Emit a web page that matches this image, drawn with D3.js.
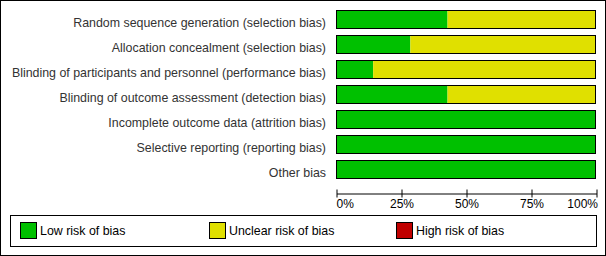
<!DOCTYPE html>
<html>
<head>
<meta charset="utf-8">
<script src="https://cdn.jsdelivr.net/npm/d3@7"></script>
<style>
    body { margin: 0; background: #fff; }
    svg text { font-family: "Liberation Sans", Arial, sans-serif; }
</style>
</head>
<body>
<div id="chart-area"></div>
<script>

// Risk of bias domains (top to bottom)
let domains = [
    "Random sequence generation (selection bias)",
    "Allocation concealment (selection bias)",
    "Blinding of participants and personnel (performance bias)",
    "Blinding of outcome assessment (detection bias)",
    "Incomplete outcome data (attrition bias)",
    "Selective reporting (reporting bias)",
    "Other bias"
];

// percent of studies per judgement
let lowRisk     = [42.9, 28.6, 14.3, 42.9, 100, 100, 100];
let unclearRisk = [57.1, 71.4, 85.7, 57.1, 0, 0, 0];
let highRisk    = [0, 0, 0, 0, 0, 0, 0];

let riskKeys = ["low", "unclear", "high"];
let riskLabels = ["Low risk of bias", "Unclear risk of bias", "High risk of bias"];
let riskColors = ["#00c000", "#e0e000", "#c00000"];

let tickValues = [0, 25, 50, 75, 100];
let tickLabels = ["0%", "25%", "50%", "75%", "100%"];


class RiskVis {

    constructor(_parentElement) {
        this.parentElement = _parentElement;
        this.initVis();
    }

    initVis() {
        let vis = this;

        vis.width = 606;
        vis.height = 256;

        vis.svg = d3.select("#" + vis.parentElement).append("svg")
            .attr("width", vis.width)
            .attr("height", vis.height);

        // outer frame
        vis.svg.append("rect")
            .attr("x", 0.5).attr("y", 0.5)
            .attr("width", vis.width - 1).attr("height", vis.height - 1)
            .attr("fill", "#fff")
            .attr("stroke", "#000");

        // Scales
        vis.x = d3.scaleLinear()
            .domain([0, 100])
            .range([336, 596]);

        vis.y = d3.scaleBand()
            .domain(domains)
            .range([7, 182])
            .paddingInner(0.24)
            .paddingOuter(0.12);

        vis.color = d3.scaleOrdinal()
            .domain(riskKeys)
            .range(riskColors);

        vis.xAxis = d3.axisBottom(vis.x)
            .tickValues(tickValues)
            .tickSizeOuter(0)
            .tickFormat((d, i) => tickLabels[i]);

        vis.wrangleData();
    }

    wrangleData() {
        let vis = this;

        let rows = domains.map((d, i) => ({
            domain: d, low: lowRisk[i], unclear: unclearRisk[i], high: highRisk[i]
        }));

        vis.displayData = d3.stack().keys(riskKeys)(rows);
        vis.rows = rows;

        vis.updateVis();
    }

    updateVis() {
        let vis = this;

        // stacked segments
        vis.svg.append("g").selectAll("g")
            .data(vis.displayData)
            .join("g")
            .attr("fill", d => vis.color(d.key))
            .selectAll("rect")
            .data(d => d)
            .join("rect")
            .attr("x", d => vis.x(d[0]))
            .attr("y", d => vis.y(d.data.domain))
            .attr("width", d => vis.x(d[1]) - vis.x(d[0]))
            .attr("height", vis.y.bandwidth());

        // bar outlines
        vis.svg.append("g").selectAll("rect")
            .data(vis.rows)
            .join("rect")
            .attr("x", vis.x(0) + 0.5)
            .attr("y", d => vis.y(d.domain) + 0.5)
            .attr("width", vis.x(100) - vis.x(0) - 1)
            .attr("height", vis.y.bandwidth() - 1)
            .attr("fill", "none")
            .attr("stroke", "#000")
            .attr("stroke-width", 1);

        // domain labels
        vis.svg.append("g").selectAll("text")
            .data(domains)
            .join("text")
            .attr("x", 326)
            .attr("y", d => vis.y(d) + vis.y.bandwidth() - 2)
            .attr("text-anchor", "end")
            .attr("font-size", 12.4)
            .attr("fill", "#333")
            .text(d => d);

        // x axis
        let axisG = vis.svg.append("g")
            .attr("class", "x-axis axis")
            .attr("transform", "translate(0.5,193.5)")
            .call(vis.xAxis);

        axisG.select(".domain").attr("stroke", "#000");
        axisG.selectAll(".tick line")
            .attr("y1", -4).attr("y2", 4)
            .attr("stroke", "#000");
        axisG.selectAll(".tick text")
            .attr("y", 14)
            .attr("dy", 0)
            .attr("font-size", 12)
            .attr("fill", "#000")
            .attr("font-family", "\"Liberation Sans\", Arial, sans-serif")
            .style("text-anchor", (d, i) => i === 0 ? "start" : (i === tickValues.length - 1 ? "end" : "middle"))
            .attr("dx", (d, i) => i === 0 ? -0.5 : (i === tickValues.length - 1 ? 1 : 0));

        // legend
        let legend = vis.svg.append("g").attr("class", "legend");

        legend.append("rect")
            .attr("x", 10.5).attr("y", 215.5)
            .attr("width", 586).attr("height", 31)
            .attr("fill", "none")
            .attr("stroke", "#000");

        let legendX = [20, 209, 396];

        let items = legend.selectAll("g.item")
            .data(riskKeys)
            .join("g")
            .attr("class", "item")
            .attr("transform", (d, i) => "translate(" + legendX[i] + ",222)");

        items.append("rect")
            .attr("x", 0.5).attr("y", 0.5)
            .attr("width", 16).attr("height", 16)
            .attr("fill", d => vis.color(d))
            .attr("stroke", "#000");

        items.append("text")
            .attr("x", 20)
            .attr("y", 13)
            .attr("font-size", 12.4)
            .attr("fill", "#000")
            .text((d, i) => riskLabels[i]);
    }
}

let riskVis = new RiskVis("chart-area");

</script>
</body>
</html>
